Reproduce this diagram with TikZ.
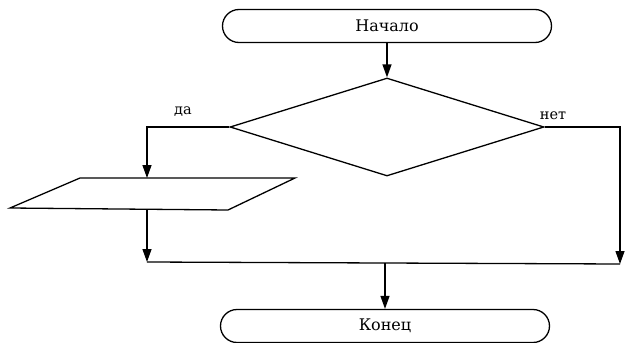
\documentclass[tikz,border=0pt]{standalone}
\usepackage{fontspec}
\setmainfont{DejaVu Serif}
\usetikzlibrary{shapes.geometric,shapes.misc,arrows.meta}
\begin{document}
\begin{tikzpicture}[x=1pt,y=-1pt,
  line width=1.3pt,
  term/.style={draw,rounded rectangle,minimum width=329pt,minimum height=33pt,inner sep=0pt,font=\fontsize{16}{18}\selectfont},
  decis/.style={draw,diamond,minimum width=314pt,minimum height=98pt,inner sep=0pt},
  arr/.style={-{Triangle[length=13pt,width=9pt]}},
  lbl/.style={font=\fontsize{14.5}{16}\selectfont}]
\useasboundingbox (0,0) rectangle (625,343);
\node[term] (start) at (387,26) {Начало};
\node[decis] (dec) at (387,127) {};
\node[term] (end) at (385,326) {Конец};
% parallelogram (input/output block)
\coordinate (iotl) at (80,178);
\coordinate (iotr) at (295,178);
\coordinate (iobr) at (228,210);
\coordinate (iobl) at (10,208);
\draw (iotl) -- (iotr) -- (iobr) -- (iobl) -- cycle;
\coordinate (ion) at (147,178);
\coordinate (ios) at (147,209);
\coordinate (jl) at (147,262);
\coordinate (jr) at (620,264);
\coordinate (jm) at (385,263);
\coordinate (yesc) at (147,127);
\draw[arr] (start.south) -- (dec.north);
\draw[arr] (dec.west) -- (yesc) -- (ion);
\draw[arr] (ios) -- (jl);
\draw[arr] (dec.east) -| (jr);
\draw (jl) -- (jr);
\draw[arr] (jm) -- (end.north);
\node[lbl] (yes) at (183,112) {да};
\node[lbl] (no) at (553,116) {нет};
\end{tikzpicture}
\end{document}
